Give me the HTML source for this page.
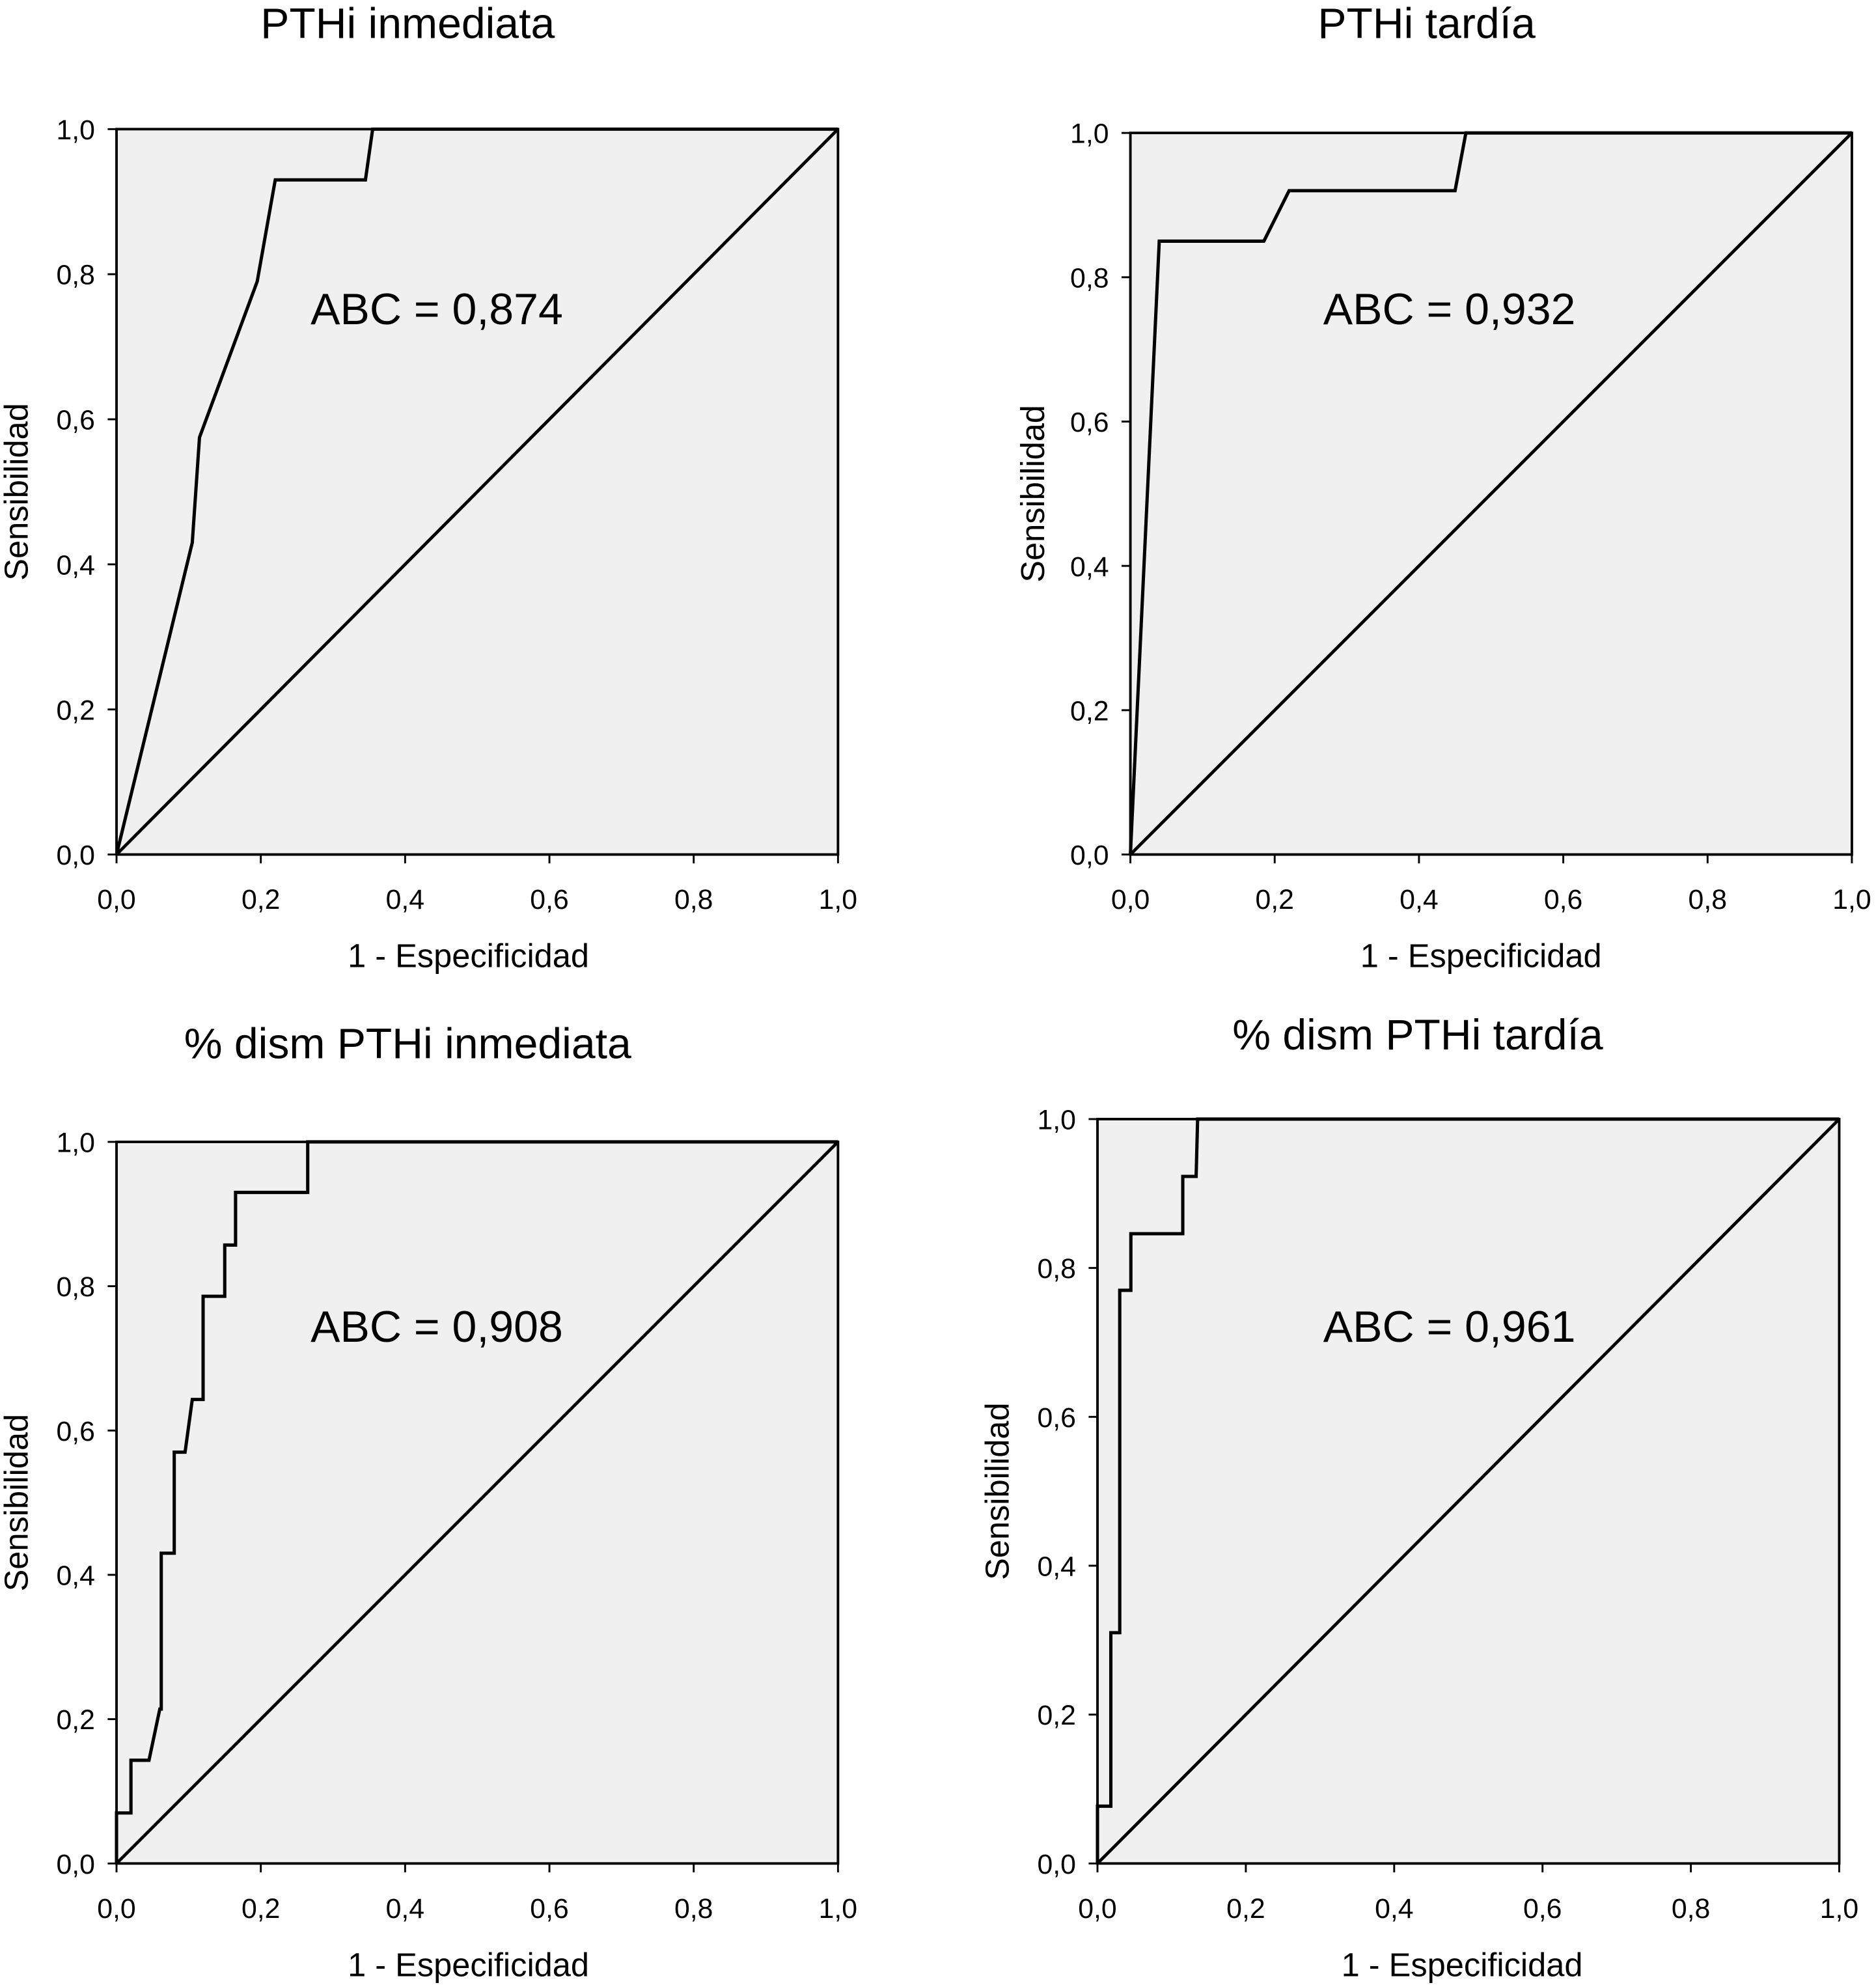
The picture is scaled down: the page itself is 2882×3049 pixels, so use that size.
<!DOCTYPE html>
<html><head><meta charset="utf-8"><style>
html,body{margin:0;padding:0;background:#fff}
svg{display:block}
text{font-family:"Liberation Sans",sans-serif;fill:#000}
</style></head><body>
<svg id="c" width="2882" height="3049" viewBox="0 0 1482 1568" xmlns="http://www.w3.org/2000/svg"></svg>
<script>
const tickValues=[0,0.2,0.4,0.6,0.8,1.0];
const tickLabels=["0,0","0,2","0,4","0,6","0,8","1,0"];
const titles=["PTHi inmediata","PTHi tardía","% dism PTHi inmediata","% dism PTHi tardía"];
const aucLabels=["ABC = 0,874","ABC = 0,932","ABC = 0,908","ABC = 0,961"];
const fpr1=[0,0.105,0.115,0.195,0.22,0.345,0.355,1];
const tpr1=[0,0.43,0.575,0.79,0.93,0.93,1,1];
const fpr2=[0,0.04,0.185,0.22,0.45,0.465,1];
const tpr2=[0,0.85,0.85,0.92,0.92,1,1];
const fpr3=[0,0,0.02,0.02,0.045,0.06,0.062,0.062,0.08,0.08,0.095,0.105,0.12,0.12,0.15,0.15,0.165,0.165,0.265,0.265,1];
const tpr3=[0,0.07,0.07,0.143,0.143,0.214,0.214,0.43,0.43,0.57,0.57,0.643,0.643,0.786,0.786,0.857,0.857,0.93,0.93,1,1];
const fpr4=[0,0,0.018,0.018,0.03,0.03,0.045,0.045,0.115,0.115,0.133,0.135,1];
const tpr4=[0,0.077,0.077,0.31,0.31,0.77,0.77,0.846,0.846,0.923,0.923,1,1];
const panels=[
 {x0:92,x1:662,yT:102,yB:675,tx:322,ty:30,ax:345,ay:256,fx:fpr1,ty2:tpr1,ylx:15,xt:370},
 {x0:893,x1:1463,yT:105,yB:675,tx:1127,ty:30,ax:1145,ay:256,fx:fpr2,ty2:tpr2,ylx:818,xt:1170},
 {x0:92,x1:662,yT:902,yB:1472,tx:322,ty:836,ax:345,ay:1060,fx:fpr3,ty2:tpr3,ylx:15,xt:370},
 {x0:867,x1:1453,yT:884,yB:1472,tx:1120,ty:829,ax:1145,ay:1060,fx:fpr4,ty2:tpr4,ylx:790,xt:1155}
];
const NS="http://www.w3.org/2000/svg";
const svg=document.getElementById('c');
function mk(tag,attrs,parent){const e=document.createElementNS(NS,tag);for(const k in attrs)e.setAttribute(k,attrs[k]);(parent||svg).appendChild(e);return e;}
panels.forEach((p,i)=>{
 const g=mk('g',{});
 
 
 const sx=v=>p.x0+v*(p.x1-p.x0);
 const sy=v=>p.yB-v*(p.yB-p.yT);
 const bg=mk('rect',{x:p.x0,y:p.yT,width:p.x1-p.x0,height:p.yB-p.yT,fill:'#f0f0f0',stroke:'#000','stroke-width':2},g);
 
 
 tickValues.forEach((v,j)=>{
  mk('line',{x1:p.x0-7,x2:p.x0,y1:sy(v),y2:sy(v),stroke:'#000','stroke-width':1.5},g);
  const yl=mk('text',{x:p.x0-17,y:sy(v)+8,'font-size':22,'text-anchor':'end'},g);yl.textContent=tickLabels[j];
  
  
  mk('line',{x1:sx(v),x2:sx(v),y1:p.yB,y2:p.yB+7,stroke:'#000','stroke-width':1.5},g);
  const xl=mk('text',{x:sx(v),y:p.yB+43,'font-size':22,'text-anchor':'middle'},g);xl.textContent=tickLabels[j];
  
  
 });
 const diag=mk('line',{x1:sx(0),y1:sy(0),x2:sx(1),y2:sy(1),stroke:'#000','stroke-width':2.5},g);
 
 
 const pts=p.fx.map((v,k)=>sx(v)+','+sy(p.ty2[k])).join(' ');
 const curve=mk('polyline',{points:pts,fill:'none',stroke:'#000','stroke-width':2.6},g);
 
 
 const t=mk('text',{x:p.tx,y:p.ty,'font-size':34,'text-anchor':'middle'},g);t.textContent=titles[i];
 
 
 const a=mk('text',{x:p.ax,y:p.ay,'font-size':35,'text-anchor':'middle'},g);a.textContent=aucLabels[i];
 
 
 const xt=mk('text',{x:p.xt,y:p.yB+89,'font-size':26,'text-anchor':'middle'},g);xt.textContent='1 - Especificidad';
 
 
 const cy=(p.yT+p.yB)/2;
 const yt=mk('text',{x:p.ylx,y:cy,'font-size':26,'text-anchor':'middle',transform:'rotate(-90 '+p.ylx+' '+cy+')','dominant-baseline':'middle'},g);yt.textContent='Sensibilidad';
 
 
});
</script>
</body></html>
